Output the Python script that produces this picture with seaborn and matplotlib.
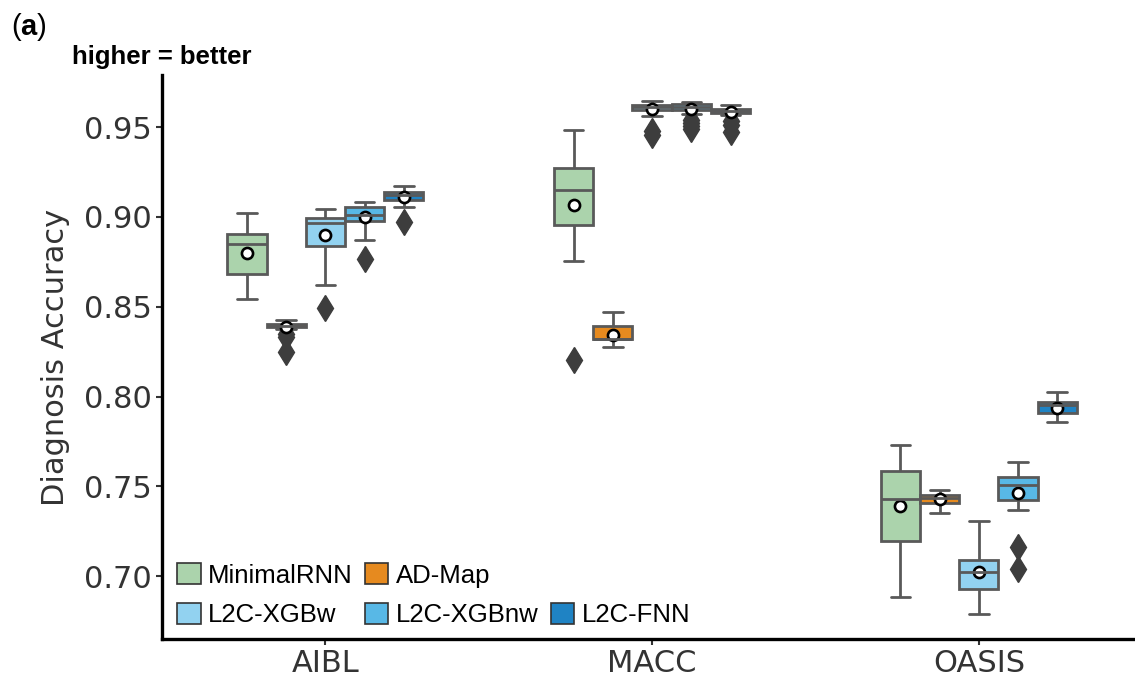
import numpy as np
import pandas as pd
import matplotlib
matplotlib.use("Agg")
import matplotlib.pyplot as plt
from matplotlib.patches import Patch
import seaborn as sns

# ---------------- data ----------------
datasets = ["AIBL", "MACC", "OASIS"]
models = ["MinimalRNN", "AD-Map", "L2C-XGBw", "L2C-XGBnw", "L2C-FNN"]
colors = ["#abd3ac", "#e68a1f", "#92d2f0", "#58b8e6", "#1f83c4"]

# per model: values for [AIBL, MACC, OASIS]
whisker_low = {
    "MinimalRNN": [0.8544, 0.8756, 0.6883],
    "AD-Map":     [0.8378, 0.8274, 0.7354],
    "L2C-XGBw":   [0.8622, 0.9562, 0.6790],
    "L2C-XGBnw":  [0.8870, 0.9575, 0.7370],
    "L2C-FNN":    [0.9055, 0.9568, 0.7856],
}
q1 = {
    "MinimalRNN": [0.8680, 0.8957, 0.7195],
    "AD-Map":     [0.8386, 0.8318, 0.7409],
    "L2C-XGBw":   [0.8836, 0.9597, 0.6928],
    "L2C-XGBnw":  [0.8979, 0.9595, 0.7422],
    "L2C-FNN":    [0.9093, 0.9578, 0.7908],
}
median = {
    "MinimalRNN": [0.8847, 0.9149, 0.7428],
    "AD-Map":     [0.8395, 0.8322, 0.7435],
    "L2C-XGBw":   [0.8968, 0.9612, 0.7024],
    "L2C-XGBnw":  [0.9009, 0.9612, 0.7506],
    "L2C-FNN":    [0.9120, 0.9592, 0.7954],
}
q3 = {
    "MinimalRNN": [0.8907, 0.9270, 0.7586],
    "AD-Map":     [0.8404, 0.8395, 0.7452],
    "L2C-XGBw":   [0.8996, 0.9625, 0.7089],
    "L2C-XGBnw":  [0.9055, 0.9628, 0.7552],
    "L2C-FNN":    [0.9137, 0.9602, 0.7967],
}
whisker_high = {
    "MinimalRNN": [0.9024, 0.9483, 0.7729],
    "AD-Map":     [0.8425, 0.8469, 0.7478],
    "L2C-XGBw":   [0.9042, 0.9645, 0.7307],
    "L2C-XGBnw":  [0.9081, 0.9640, 0.7638],
    "L2C-FNN":    [0.9171, 0.9622, 0.8023],
}
outliers = {
    "MinimalRNN": [[], [0.8204], []],
    "AD-Map":     [[0.8350, 0.8330, 0.8248], [], []],
    "L2C-XGBw":   [[0.8494], [0.9480, 0.9455], []],
    "L2C-XGBnw":  [[0.8767], [0.9540, 0.9520, 0.9505, 0.9488], [0.7162, 0.7037]],
    "L2C-FNN":    [[0.8972], [0.9535, 0.9510, 0.9472], []],
}
means = {
    "MinimalRNN": [0.8797, 0.9065, 0.7391],
    "AD-Map":     [0.8385, 0.8345, 0.7428],
    "L2C-XGBw":   [0.8897, 0.9600, 0.7024],
    "L2C-XGBnw":  [0.9000, 0.9602, 0.7461],
    "L2C-FNN":    [0.9111, 0.9582, 0.7936],
}
yticks = [0.70, 0.75, 0.80, 0.85, 0.90, 0.95]

# ---------------- build long tables ----------------
# Samples whose quartiles / whiskers / fliers reproduce the read summary
rows = []
for m in models:
    for i, d in enumerate(datasets):
        vals = ([whisker_low[m][i]] + [q1[m][i]] * 5 + [median[m][i]] * 5
                + [q3[m][i]] * 5 + [whisker_high[m][i]] + outliers[m][i])
        for v in vals:
            rows.append({"dataset": d, "model": m, "acc": v})
df = pd.DataFrame(rows)
mean_df = pd.DataFrame([{"dataset": d, "model": m, "acc": means[m][i]}
                        for m in models for i, d in enumerate(datasets)])

# ---------------- plot ----------------
sns.set_theme(style="ticks")
plt.rcParams["font.family"] = ["DejaVu Sans"]
plt.rcParams["mathtext.fontset"] = "custom"
plt.rcParams["mathtext.bf"] = "Liberation Sans:bold"
plt.rcParams["mathtext.rm"] = "Liberation Sans"

fig = plt.figure(figsize=(11.35, 6.86), dpi=100)
ax = fig.add_axes([0.1427, 0.0685, 0.8608, 0.8222])

line_col = "#595959"
sns.boxplot(data=df, x="dataset", y="acc", hue="model", order=datasets,
            hue_order=models, palette=colors, saturation=1, width=0.6, whis=1.5,
            linewidth=2, linecolor=line_col, fliersize=13,
            flierprops=dict(marker="d", markerfacecolor="#3d3d3d",
                            markeredgecolor="#3d3d3d"),
            legend=False, ax=ax)

sns.pointplot(data=mean_df, x="dataset", y="acc", hue="model", order=datasets,
              hue_order=models, palette=["black"] * 5, dodge=0.48,
              linestyle="none", markers="o", errorbar=None, legend=False,
              markersize=8, markerfacecolor="white", markeredgecolor="black",
              markeredgewidth=1.9, ax=ax)

ax.set_xlim(-0.5, 2.49)
ax.set_ylim(0.665, 0.979)
ax.set_yticks(yticks)
ax.set_yticklabels([f"{t:.2f}" for t in yticks])
ax.set_xlabel("")
ax.set_ylabel("Diagnosis Accuracy", fontsize=22, color="#333333", labelpad=10)
ax.tick_params(axis="both", labelsize=22, colors="#333333", length=4, width=1.5)
for s in ["top", "right"]:
    ax.spines[s].set_visible(False)
for s in ["left", "bottom"]:
    ax.spines[s].set_linewidth(2.4)
    ax.spines[s].set_color("black")

# legend (column-major order to match the reference layout)
order = [0, 2, 1, 3, None, 4]
handles = []
for k in order:
    if k is None:
        handles.append(Patch(facecolor="none", edgecolor="none", label=" "))
    else:
        handles.append(Patch(facecolor=colors[k], edgecolor="#333333",
                             linewidth=1.2, label=models[k]))
leg = ax.legend(handles=handles, loc="lower left", bbox_to_anchor=(0.004, 0.0),
                ncol=3, frameon=False,
                prop={"family": "Liberation Sans", "size": 18.5},
                handlelength=0.9, handleheight=0.9, handletextpad=0.3,
                columnspacing=0.47, labelspacing=0.6, borderaxespad=0.05)
for t in leg.get_texts():
    t.set_color("black")

ax.text(0.0, 1.01, "higher = better", transform=ax.transAxes, ha="center",
        va="bottom", fontsize=18.5, fontweight="bold", family="Liberation Sans",
        color="black")
fig.text(0.010, 0.961, r"($\mathbf{a}$)", fontsize=21, va="center", ha="left",
         family="Liberation Sans", color="black")

fig.savefig("out.png", dpi=100)
